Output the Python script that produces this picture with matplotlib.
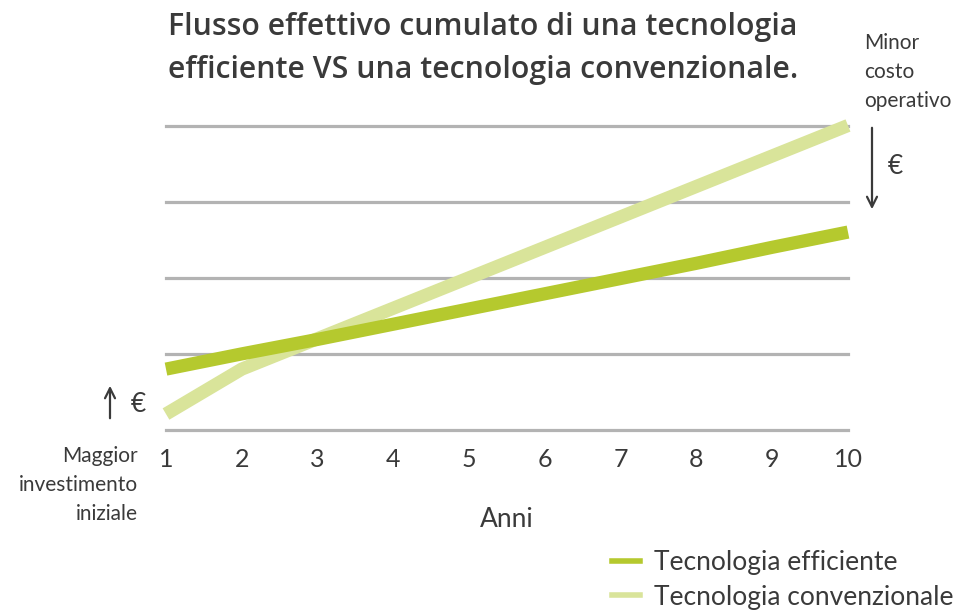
import matplotlib
matplotlib.use("Agg")
import matplotlib.pyplot as plt
from matplotlib.lines import Line2D

plt.rcParams['font.family'] = ['Lato', 'DejaVu Sans']

years = [1, 2, 3, 4, 5, 6, 7, 8, 9, 10]
efficiente = [0.80, 1.00, 1.19, 1.39, 1.59, 1.79, 1.99, 2.19, 2.40, 2.60]
convenzionale = [0.21, 0.80, 1.20, 1.60, 2.00, 2.40, 2.80, 3.20, 3.60, 4.00]
grid_levels = [0, 1, 2, 3, 4]
labels = ["Tecnologia efficiente", "Tecnologia convenzionale"]
title = "Flusso effettivo cumulato di una tecnologia\nefficiente VS una tecnologia convenzionale."

c_eff = "#b5c92e"
c_conv = "#d9e49a"
c_text = "#3a3a3a"
c_grid = "#b3b3b3"

W, H = 967, 612
fig = plt.figure(figsize=(W / 100, H / 100), dpi=100)
ax = fig.add_axes([166 / W, 1 - 430 / H, (848 - 166) / W, (430 - 125.5) / H])

for g in grid_levels:
    ax.axhline(g, color=c_grid, lw=2.3, zorder=1, clip_on=False)

ax.plot(years, convenzionale, color=c_conv, lw=9.5, solid_capstyle='butt', zorder=2, clip_on=False)
ax.plot(years, efficiente, color=c_eff, lw=9.5, solid_capstyle='butt', zorder=3, clip_on=False)

ax.set_xlim(1, 10)
ax.set_ylim(0, 4)
ax.set_xticks(years)
ax.set_xticklabels([str(y) for y in years], fontsize=18, color=c_text)
ax.tick_params(axis='x', length=0, pad=13)
ax.set_yticks([])
for s in ax.spines.values():
    s.set_visible(False)
ax.set_xlabel("Anni", fontsize=19, color=c_text, labelpad=26)

fig.text(168 / W, 1 - 12 / H, title, fontsize=21.8, fontweight='semibold', color=c_text,
         family=['Open Sans', 'DejaVu Sans'], ha='left', va='top', linespacing=1.55)

# Left annotation
fig.text(138 / W, 1 - 446 / H, "Maggior\ninvestimento\niniziale", fontsize=15, color=c_text,
         ha='right', va='top', linespacing=1.55)
ax.annotate("", xy=(110 / W, 1 - 383 / H), xytext=(110 / W, 1 - 421 / H),
            xycoords='figure fraction', textcoords='figure fraction',
            arrowprops=dict(arrowstyle='->', color=c_text, lw=1.6, mutation_scale=18))
fig.text(138 / W, 1 - 405 / H, "€", fontsize=19, color=c_text, ha='center', va='center')

# Right annotation
fig.text(864 / W, 1 - 33 / H, "Minor\ncosto\noperativo", fontsize=15, color=c_text,
         ha='left', va='top', linespacing=1.55)
ax.annotate("", xy=(872 / W, 1 - 212 / H), xytext=(872 / W, 1 - 125 / H),
            xycoords='figure fraction', textcoords='figure fraction',
            arrowprops=dict(arrowstyle='->', color=c_text, lw=1.6, mutation_scale=18))
fig.text(895 / W, 1 - 167 / H, "€", fontsize=19, color=c_text, ha='center', va='center')

handles = [Line2D([0], [0], color=c_eff, lw=4),
           Line2D([0], [0], color=c_conv, lw=4)]
leg = fig.legend(handles, labels, loc='upper left', bbox_to_anchor=(612 / W, 1 - 550 / H),
                 frameon=False, handlelength=1.05, handletextpad=0.55,
                 labelspacing=0.36, borderaxespad=0, borderpad=0,
                 prop=dict(size=19))
for t in leg.get_texts():
    t.set_color(c_text)

fig.savefig("out.png", dpi=100)
